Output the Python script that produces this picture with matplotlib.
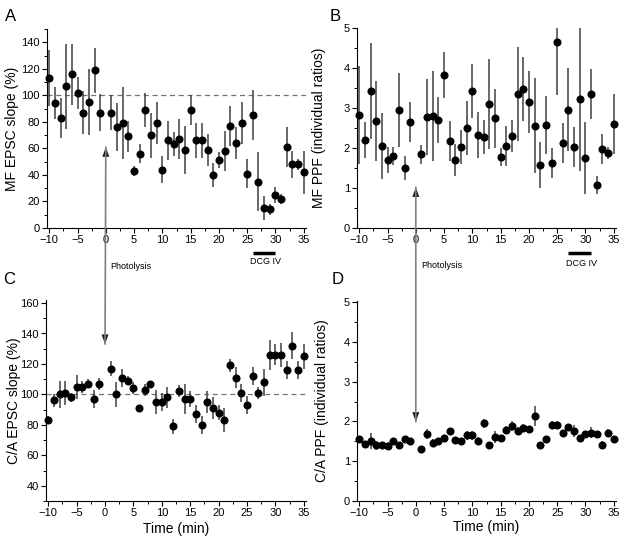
import matplotlib
matplotlib.use("Agg")
import matplotlib.pyplot as plt
from matplotlib.patches import ConnectionPatch
from matplotlib.ticker import MultipleLocator

plt.rcParams['font.family'] = ['Liberation Sans', 'DejaVu Sans']

# time points (min), no sample at 0
time = [-10, -9, -8, -7, -6, -5, -4, -3, -2, -1,
        1, 2, 3, 4, 5, 6, 7, 8, 9, 10,
        11, 12, 13, 14, 15, 16, 17, 18, 19, 20,
        21, 22, 23, 24, 25, 26, 27, 28, 29, 30,
        31, 32, 33, 34, 35]

# A: MF EPSC slope (%)
mf_slope = [113, 94, 83, 107, 116, 102, 87, 95, 119, 87,
            87, 76, 79, 69, 43, 56, 89, 70, 79, 44,
            66, 63, 67, 59, 89, 66, 66, 59, 40, 51,
            58, 77, 64, 79, 41, 85, 35, 15, 14, 25,
            22, 61, 48, 48, 42]
mf_slope_err = [21, 12, 15, 32, 23, 12, 16, 25, 17, 14,
                13, 18, 27, 12, 4, 7, 13, 17, 16, 10,
                15, 9, 15, 18, 11, 13, 13, 12, 9, 6,
                15, 15, 12, 16, 11, 19, 22, 9, 4, 6,
                4, 15, 10, 4, 16]

# B: MF PPF
mf_ppf = [2.83, 2.2, 3.43, 2.68, 2.05, 1.7, 1.8, 2.95, 1.5, 2.65,
          1.84, 2.77, 2.8, 2.7, 3.82, 2.17, 1.7, 2.03, 2.5, 3.43,
          2.32, 2.27, 3.1, 2.74, 1.77, 2.05, 2.3, 3.35, 3.47, 3.15,
          2.56, 1.58, 2.58, 1.62, 4.65, 2.12, 2.96, 2.03, 3.23, 1.75,
          3.35, 1.08, 1.97, 1.88, 2.6]
mf_ppf_err = [1.22, 0.45, 1.2, 1.0, 0.83, 0.33, 0.22, 0.93, 0.3, 0.5,
              0.24, 0.95, 1.13, 0.57, 0.57, 0.5, 0.4, 0.42, 0.67, 0.68,
              0.57, 0.42, 1.13, 0.73, 0.22, 0.5, 0.4, 1.18, 0.8, 0.77,
              1.18, 0.58, 0.72, 0.37, 1.33, 0.5, 1.04, 0.5, 1.8, 0.9,
              0.63, 0.22, 0.38, 0.15, 0.74]

# C: C/A EPSC slope (%)
ca_slope = [83.5, 96, 100, 101, 98, 105, 105, 107, 97, 107,
            117, 100, 111, 109, 104, 91, 103, 107, 95, 95,
            98, 79, 102, 97, 97, 87, 80, 95, 91, 88,
            83, 119, 111, 101, 93, 112, 101, 108, 126, 126,
            126, 116, 132, 116, 125]
ca_slope_err = [2, 4, 9, 8, 3, 8, 4, 3, 6, 4,
                5, 8, 6, 3, 4, 2, 4, 2, 8, 6,
                7, 5, 4, 10, 5, 6, 6, 7, 7, 5,
                8, 4, 7, 6, 6, 6, 4, 9, 10, 7,
                8, 6, 9, 6, 8]

# D: C/A PPF
ca_ppf = [1.55, 1.43, 1.5, 1.4, 1.42, 1.38, 1.5, 1.4, 1.57, 1.52,
          1.3, 1.68, 1.45, 1.5, 1.58, 1.75, 1.53, 1.5, 1.65, 1.65,
          1.52, 1.95, 1.42, 1.62, 1.58, 1.78, 1.88, 1.77, 1.83, 1.82,
          2.13, 1.42, 1.55, 1.92, 1.92, 1.7, 1.87, 1.75, 1.58, 1.68,
          1.72, 1.68, 1.4, 1.72, 1.55]
ca_ppf_err = [0.05, 0.08, 0.2, 0.12, 0.05, 0.1, 0.05, 0.05, 0.06, 0.05,
              0.04, 0.12, 0.1, 0.05, 0.05, 0.05, 0.05, 0.05, 0.12, 0.12,
              0.1, 0.12, 0.05, 0.15, 0.05, 0.1, 0.12, 0.1, 0.1, 0.07,
              0.25, 0.04, 0.06, 0.1, 0.1, 0.08, 0.07, 0.15, 0.08, 0.07,
              0.13, 0.07, 0.1, 0.1, 0.08]

W, H = 624, 543
fig = plt.figure(figsize=(W / 100, H / 100), dpi=100)

def px_axes(left, top, right, bottom):
    return fig.add_axes([left / W, 1 - bottom / H, (right - left) / W, (bottom - top) / H])

axA = px_axes(47, 29, 306, 228)
axB = px_axes(357, 28, 616, 228)
axC = px_axes(46, 300, 306, 501)
axD = px_axes(357, 301, 616, 501)


def style(ax, y, yerr, ylim, major, minor, ylabel, ylab_x, xlabel=None, xlab_y=None):
    line, _, _ = ax.errorbar(time, y, yerr=yerr, fmt='o', color='k', ms=4.8,
                             ecolor='0.25', elinewidth=1.1, capsize=0)
    line.set_clip_on(False)
    ax.set_xlim(-10.4, 35.4)
    ax.set_ylim(*ylim)
    ax.xaxis.set_major_locator(MultipleLocator(5))
    ax.xaxis.set_minor_locator(MultipleLocator(2.5))
    ax.yaxis.set_major_locator(MultipleLocator(major))
    ax.yaxis.set_minor_locator(MultipleLocator(minor))
    for s in ['top', 'right']:
        ax.spines[s].set_visible(False)
    for s in ['left', 'bottom']:
        ax.spines[s].set_linewidth(0.8)
    ax.tick_params(which='major', direction='out', length=3.5, width=0.8, labelsize=8, pad=1.5)
    ax.tick_params(which='minor', direction='out', length=2, width=0.7)
    ax.set_ylabel(ylabel, fontsize=10)
    ax.yaxis.set_label_coords(ylab_x, 0.5)
    if xlabel:
        ax.set_xlabel(xlabel, fontsize=10)
        ax.xaxis.set_label_coords(0.5, xlab_y)


style(axA, mf_slope, mf_slope_err, (0, 150), 20, 10, 'MF EPSC slope (%)', -0.108)
style(axB, mf_ppf, mf_ppf_err, (0, 5), 1, 0.5, 'MF PPF (individual ratios)', -0.12)
style(axC, ca_slope, ca_slope_err, (30, 162), 20, 10, 'C/A EPSC slope (%)', -0.096,
      'Time (min)', -0.105)
style(axD, ca_ppf, ca_ppf_err, (0, 5.03), 1, 0.5, 'C/A PPF (individual ratios)', -0.108,
      'Time (min)', -0.095)

for ax in (axA, axC):
    ax.axhline(100, color='0.45', lw=0.9, ls=(0, (4, 3)), zorder=0)

# DCG IV bars and photolysis labels
for ax, bar, ybar, ytxt, xphot, yphot in [(axA, (26, 30), -0.124, -0.17, 0.7, -0.195),
                                           (axB, (27, 31), -0.125, -0.18, 1.0, -0.19)]:
    tr = ax.get_xaxis_transform()
    ax.plot(bar, [ybar, ybar], color='k', lw=2.5, transform=tr, clip_on=False,
            solid_capstyle='butt')
    ax.text(sum(bar) / 2 + 0.3, ytxt, 'DCG IV', transform=tr, fontsize=6.5,
            ha='center', va='center')
    ax.text(xphot, yphot, 'Photolysis', transform=tr, fontsize=6.5,
            ha='left', va='center')

# photolysis arrows spanning panels
head = '-|>,head_length=0.7,head_width=0.25'
for top_ax, top_y, bot_ax, bot_y in [(axA, 61, axC, 133), (axB, 1.02, axD, 1.99)]:
    con = ConnectionPatch(xyA=(0, top_y), coordsA=top_ax.transData,
                          xyB=(0, bot_y), coordsB=bot_ax.transData,
                          arrowstyle='-', color='0.5', lw=1.2)
    fig.add_artist(con)
    top_ax.annotate('', xy=(0, top_y), xytext=(0, -10), textcoords='offset points',
                    arrowprops=dict(arrowstyle=head, color='0.1', lw=0,
                                    shrinkA=0, shrinkB=0),
                    annotation_clip=False)
    bot_ax.annotate('', xy=(0, bot_y), xytext=(0, 10), textcoords='offset points',
                    arrowprops=dict(arrowstyle=head, color='0.1', lw=0,
                                    shrinkA=0, shrinkB=0),
                    annotation_clip=False)

for label, x, y in [('A', 5, 9), ('B', 330, 9), ('C', 3, 272), ('D', 332, 272)]:
    fig.text(x / W, 1 - y / H, label, fontsize=12, ha='left', va='top')

fig.savefig('out.png', dpi=100)
